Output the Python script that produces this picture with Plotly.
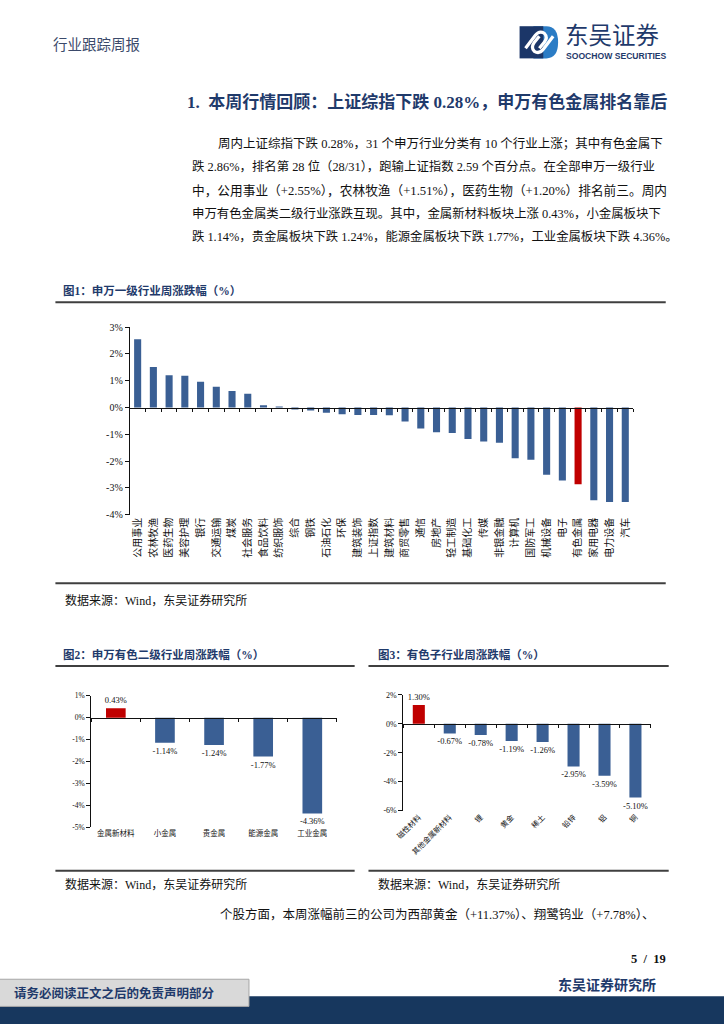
import plotly.graph_objects as go

W, H = 724, 1024

# small calibration of page positions (measured against the reference)
CAL_X0, CAL_Y0, CAL_SY = -5.0, 7.9, 0.985


def X(px):
    return (px + CAL_X0) / W


def Y(py):
    return 1 - ((py - CAL_Y0) / CAL_SY) / H


# ---------------- data ----------------
ind_names = ["公用事业", "农林牧渔", "医药生物", "美容护理", "银行", "交通运输", "煤炭", "社会服务",
             "食品饮料", "纺织服饰", "综合", "钢铁", "石油石化", "环保", "建筑装饰", "上证指数",
             "建筑材料", "商贸零售", "通信", "房地产", "轻工制造", "基础化工", "传媒", "非银金融",
             "计算机", "国防军工", "机械设备", "电子", "有色金属", "家用电器", "电力设备", "汽车"]
ind_chg = [2.55, 1.51, 1.20, 1.19, 0.96, 0.78, 0.62, 0.51,
           0.09, 0.04, -0.07, -0.11, -0.19, -0.25, -0.28, -0.28,
           -0.29, -0.52, -0.78, -0.92, -0.95, -1.17, -1.27, -1.31,
           -1.89, -1.95, -2.51, -2.72, -2.86, -3.46, -3.52, -3.52]

sub2_names = ["金属新材料", "小金属", "贵金属", "能源金属", "工业金属"]
sub2_chg = [0.43, -1.14, -1.24, -1.77, -4.36]

sub3_names = ["磁性材料", "其他金属新材料", "锂", "黄金", "稀土", "铅锌", "铝", "铜"]
sub3_chg = [1.30, -0.67, -0.78, -1.19, -1.26, -2.95, -3.59, -5.10]

y1_ticks = [3, 2, 1, 0, -1, -2, -3, -4]
y2_ticks = [1, 0, -1, -2, -3, -4, -5]
y3_ticks = [2, 0, -2, -4, -6]

highlight = ["有色金属", "金属新材料", "磁性材料"]

# ---------------- styles ----------------
BLUE = "#3A5F94"
RED = "#C00000"
NAVY = "#1F3A6B"
SERIF = "Liberation Serif, Noto Sans CJK SC, serif"
CJK = "Noto Sans CJK SC, sans-serif"


def colors(names):
    return [RED if n in highlight else BLUE for n in names]


def pct_text(vals):
    return [f"{v:.2f}%" for v in vals]


def pct_ticks(vals):
    return [f"{v}%" for v in vals]


fig = go.Figure()

# Figure 1
fig.add_trace(go.Bar(x=ind_names, y=ind_chg, marker=dict(color=colors(ind_names), line=dict(width=0)),
                     width=0.45, xaxis="x", yaxis="y", showlegend=False, hoverinfo="x+y"))
# Figure 2
fig.add_trace(go.Bar(x=sub2_names, y=sub2_chg, marker=dict(color=colors(sub2_names), line=dict(width=0)),
                     width=0.4, xaxis="x2", yaxis="y2", showlegend=False,
                     text=pct_text(sub2_chg), textposition="outside", constraintext="none",
                     cliponaxis=False, textfont=dict(family=SERIF, size=8.5, color="#111")))
# Figure 3
fig.add_trace(go.Bar(x=sub3_names, y=sub3_chg, marker=dict(color=colors(sub3_names), line=dict(width=0)),
                     width=0.39, xaxis="x3", yaxis="y3", showlegend=False,
                     text=pct_text(sub3_chg), textposition="outside", constraintext="none",
                     cliponaxis=False, textfont=dict(family=SERIF, size=8.5, color="#111")))

# dummy traces for zero-line tick axes
for ax, ya in (("x4", "y"), ("x5", "y2"), ("x6", "y3")):
    fig.add_trace(go.Scatter(x=[None], y=[None], xaxis=ax, yaxis=ya, showlegend=False,
                             hoverinfo="skip", mode="markers"))

panels = [
    ("xaxis", "yaxis", (127.3, 637), (328.3, 515), y1_ticks, ind_names, -90, 10, 10, "x", "y", "xaxis4"),
    ("xaxis2", "yaxis2", (88.3, 337), (695, 826), y2_ticks, sub2_names, 0, 7.5, 7.5, "x2", "y2", "xaxis5"),
    ("xaxis3", "yaxis3", (404.3, 655), (694, 809.3), y3_ticks, sub3_names, -45, 7.5, 8, "x3", "y3", "xaxis6"),
]

layout_axes = {}
for xa, ya, xd, yd, yt, cats, ang, xf, yf, xid, yid, za in panels:
    ydom = [Y(yd[1]), Y(yd[0])]
    yr = [min(yt), max(yt)]
    layout_axes[xa] = dict(domain=[X(xd[0]), X(xd[1])], anchor=yid, type="category",
                           range=[-0.5, len(cats) - 0.5], showline=False, ticks="",
                           tickangle=ang, tickfont=dict(family=CJK, size=xf, color="#111"),
                           showgrid=False, zeroline=False, fixedrange=True)
    layout_axes[ya] = dict(domain=ydom, anchor=xid, range=yr, tickvals=yt, ticktext=pct_ticks(yt),
                           showline=True, linecolor="#111", linewidth=1, ticks="outside",
                           ticklen=4, tickcolor="#111", tickwidth=1,
                           tickfont=dict(family=SERIF, size=yf, color="#111"),
                           showgrid=False, zeroline=False, fixedrange=True)
    zero_pos = ydom[0] + (0 - yr[0]) / (yr[1] - yr[0]) * (ydom[1] - ydom[0])
    layout_axes[za] = dict(overlaying=xid, anchor="free", position=zero_pos, type="linear",
                           range=[-0.5, len(cats) - 0.5],
                           tickvals=[i - 0.5 for i in range(len(cats) + 1)],
                           ticks="outside", ticklen=3, tickcolor="#111", showticklabels=False,
                           showline=True, linecolor="#111", linewidth=1, showgrid=False,
                           zeroline=False, fixedrange=True)

fig.update_layout(width=W, height=H, margin=dict(l=0, r=0, t=0, b=0),
                  paper_bgcolor="white", plot_bgcolor="rgba(0,0,0,0)",
                  showlegend=False, bargap=0.5, hovermode=False, **layout_axes)

# ---------------- page text ----------------
ann = []


def text(x, y, s, size, color="#111", family=SERIF, xanchor="left", bold=False):
    ann.append(dict(x=X(x), y=Y(y), xref="paper", yref="paper", text=(f"<b>{s}</b>" if bold else s),
                    showarrow=False, xanchor=xanchor, yanchor="middle",
                    font=dict(family=family, size=size, color=color)))


text(48, 46, "行业跟踪周报", 14.5, "#3b4a6b", CJK)
text(566, 36.5, "东吴证券", 23.5, NAVY, CJK)
text(567, 58.5, "SOOCHOW SECURITIES", 8.6, NAVY, "Liberation Sans, Arial", bold=True)

text(183, 104, "1.  本周行情回顾：上证综指下跌 0.28%，申万有色金属排名靠后", 17, NAVY, SERIF, bold=True)

para = [
    (215, 146, "周内上证综指下跌 0.28%，31 个申万行业分类有 10 个行业上涨；其中有色金属下", 12.5),
    (188, 169, "跌 2.86%，排名第 28 位（28/31），跑输上证指数 2.59 个百分点。在全部申万一级行业", 12.4),
    (188, 192, "中，公用事业（+2.55%），农林牧渔（+1.51%），医药生物（+1.20%）排名前三。周内", 12.7),
    (188, 215, "申万有色金属类二级行业涨跌互现。其中，金属新材料板块上涨 0.43%，小金属板块下", 12.4),
    (188, 238, "跌 1.14%，贵金属板块下跌 1.24%，能源金属板块下跌 1.77%，工业金属板块下跌 4.36%。", 12.35),
]
for px_, py_, s, fs in para:
    text(px_, py_, s, fs, "#111", SERIF)

text(58, 292, "图1：申万一级行业周涨跌幅（%）", 11.5, NAVY, SERIF, bold=True)
text(60, 600, "数据来源：Wind，东吴证券研究所", 12, "#111", SERIF)
text(58, 654, "图2：申万有色二级行业周涨跌幅（%）", 11.5, NAVY, SERIF, bold=True)
text(377, 654, "图3：有色子行业周涨跌幅（%）", 11.5, NAVY, SERIF, bold=True)
text(60, 883, "数据来源：Wind，东吴证券研究所", 12, "#111", SERIF)
text(377, 883, "数据来源：Wind，东吴证券研究所", 12, "#111", SERIF)
text(217, 913, "个股方面，本周涨幅前三的公司为西部黄金（+11.37%）、翔鹭钨业（+7.78%）、", 12.5, "#111", SERIF)
text(672, 957, "5  /  19", 12.5, "#111", SERIF, xanchor="right", bold=True)
text(662, 983, "东吴证券研究所", 14, NAVY, SERIF, xanchor="right", bold=True)

# ---------------- shapes ----------------
shapes = []


def hline(x0, x1, y, w=2, color="#3f3f3f"):
    shapes.append(dict(type="line", xref="paper", yref="paper", x0=X(x0), x1=X(x1), y0=Y(y), y1=Y(y),
                       line=dict(color=color, width=w)))


def rect(x0, y0, x1, y1, fill, line_color=None, lw=0):
    shapes.append(dict(type="rect", xref="paper", yref="paper", x0=X(x0), x1=X(x1), y0=Y(y1), y1=Y(y0),
                       fillcolor=fill, line=dict(color=line_color or fill, width=lw), layer="below"))


def path(cmds, fill=None, line_color=None, lw=0):
    parts = []
    for c, pts in cmds:
        parts.append(c + " " + " ".join(f"{X(a):.5f},{Y(b):.5f}" for a, b in pts))
    d = " ".join(parts)
    shp = dict(type="path", xref="paper", yref="paper", path=d, layer="above",
               line=dict(color=line_color or "rgba(0,0,0,0)", width=lw))
    if fill:
        shp["fillcolor"] = fill
    shapes.append(shp)


hline(52, 670, 303.5)
hline(52, 670, 583)
hline(52, 355, 665.5)
hline(369, 673, 665.5)
hline(52, 355, 869)
hline(369, 673, 869)

# footer
rect(-10, 994, 740, 1040, "#17375E")
rect(-10, 977, 248, 1004, "#D9D9D9", "#A6A6A6", 1)
ann.append(dict(x=X(8), y=Y(991), xref="paper", yref="paper", text="<b>请务必阅读正文之后的免责声明部分</b>",
                showarrow=False, xanchor="left", yanchor="middle",
                font=dict(family=SERIF, size=12.5, color=NAVY)))

# logo
path([("M", [(536, 29)]), ("L", [(549, 29)]), ("Q", [(561, 29), (561, 45)]),
      ("Q", [(561, 61), (549, 61)]), ("L", [(536, 61)]), ("Z", [])], fill="#2B7CC5")
path([("M", [(522, 29)]), ("L", [(546, 29)]), ("L", [(546, 61)]), ("L", [(522, 61)]), ("Z", [])],
     fill="#1B3668")
path([("M", [(528, 51)]), ("L", [(538, 38)]), ("Q", [(542, 33), (547, 36)]), ("Q", [(551, 40), (547, 45)]),
      ("L", [(542, 51)])], line_color="white", lw=3.2)
path([("M", [(556, 39)]), ("L", [(546, 52)]), ("Q", [(542, 57), (537, 54)]), ("Q", [(533, 50), (537, 45)]),
      ("L", [(542, 39)])], line_color="white", lw=3.2)

fig.update_layout(annotations=ann, shapes=shapes)
fig.write_html("out.html",
               config={"displayModeBar": False, "staticPlot": True},
               post_script=("document.documentElement.style.margin='0px';"
                            "document.body.style.margin='0px';document.body.style.padding='0px';"
                            "document.body.style.overflow='hidden';"
                            "var gd=document.getElementById('{plot_id}');"
                            "gd.style.position='fixed';gd.style.left='0px';gd.style.top='0px';"))
